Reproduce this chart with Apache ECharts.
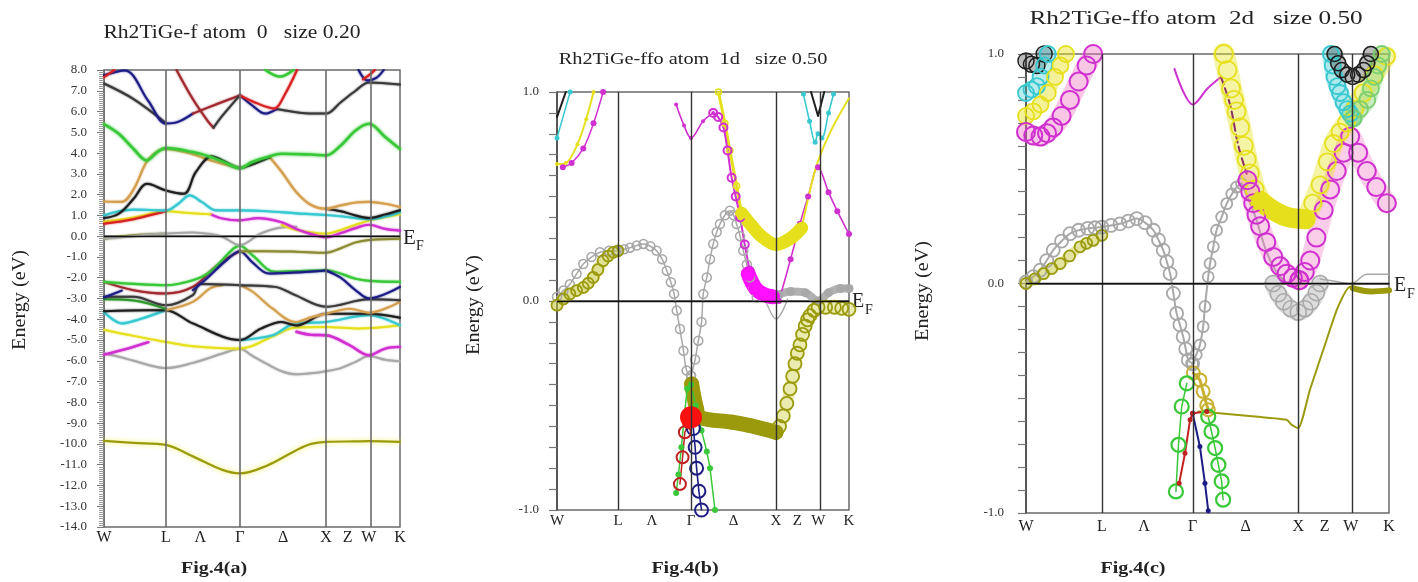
<!DOCTYPE html>
<html><head><meta charset="utf-8">
<script src="https://cdn.jsdelivr.net/npm/echarts@6.0.0/dist/echarts.min.js"></script>
<style>html,body{margin:0;padding:0;background:#fff;}#c{width:1418px;height:582px;}</style>
</head><body><div id="c"></div>
<script>
// ---------- k-path ----------
const kLabelPos = [0, 0.209, 0.325, 0.459, 0.605, 0.75, 0.823, 0.895, 1.0];
const kLabels = ['W', 'L', 'Λ', 'Γ', 'Δ', 'X', 'Z', 'W', 'K'];
const kLinePos = [0.209, 0.459, 0.75, 0.895];
const panelTitles = ['Rh2TiGe-f atom  0   size 0.20', 'Rh2TiGe-ffo atom  1d   size 0.50', 'Rh2TiGe-ffo atom  2d   size 0.50'];
const figLabels = ['Fig.4(a)', 'Fig.4(b)', 'Fig.4(c)'];
const yRangeA = [-14, 8];
const yRangeBC = [-1, 1];

// ---------- panel (a): [k, E(eV)] ----------
const a_navyTop = [[0,7.75],[0.07,7.98],[0.15,6.5],[0.209,5.42],[0.25,5.5],[0.3,5.9]];
const a_maroonA = [[0.3,5.9],[0.38,6.35],[0.459,6.78]];
const a_blackTop = [[0,7.35],[0.1,6.6],[0.209,5.45]];
const a_redW = [[0,7.65],[0.035,8.0]];
const a_redLG = [[0.245,8.0],[0.3,6.6],[0.35,5.55],[0.37,5.22]];
const a_blackV = [[0.37,5.22],[0.4,5.8],[0.459,6.78]];
const a_navyG = [[0.459,6.78],[0.5,6.3],[0.544,5.9],[0.583,6.12]];
const a_maroonB = [[0.459,6.78],[0.52,6.38],[0.575,6.15],[0.61,6.8],[0.652,8.0]];
const a_blackX = [[0.583,6.12],[0.68,5.92],[0.75,5.9],[0.8,6.45],[0.85,7.0],[0.895,7.4],[1,7.3]];
const a_greenTop = [[0.545,8.0],[0.595,7.68],[0.64,8.0]];
const a_navyW = [[0.86,8.0],[0.89,7.5],[0.92,7.62],[0.945,8.0]];
const a_redWW = [[0.875,7.55],[0.9,7.8],[0.915,8.0]];
const a_green1 = [[0,5.4],[0.05,4.93],[0.1,4.2],[0.144,3.65],[0.18,4.05],[0.209,4.24],[0.3,4.05],[0.35,3.86],[0.4,3.6],[0.459,3.28],[0.5,3.57],[0.55,3.8],[0.6,3.97],[0.7,3.93],[0.75,3.89],[0.8,4.37],[0.85,5.09],[0.895,5.41],[0.95,4.77],[1,4.2]];
const a_orange1 = [[0,1.67],[0.06,1.65],[0.1,2.25],[0.145,3.6],[0.185,4.12],[0.209,4.2],[0.3,3.95],[0.36,3.65],[0.459,3.28]];
const a_black4 = [[0,0.87],[0.05,1.08],[0.1,1.8],[0.145,2.52],[0.209,2.2],[0.27,2.04],[0.31,3.08],[0.364,3.85],[0.4,3.65],[0.459,3.28],[0.5,3.45],[0.56,3.8]];
const a_orange2 = [[0.56,3.8],[0.6,3.1],[0.65,2.12],[0.7,1.5],[0.75,1.32],[0.8,1.48],[0.85,1.62],[0.895,1.65],[0.95,1.56],[1,1.4]];
const a_black6 = [[0.75,1.32],[0.8,1.2],[0.85,1.0],[0.895,0.88],[0.95,1.05],[1,1.25]];
const a_cyan1 = [[0,1.0],[0.05,1.2],[0.1,1.28],[0.209,1.24],[0.25,1.55],[0.29,1.96],[0.33,1.65],[0.38,1.24],[0.459,1.24],[0.55,1.2],[0.65,1.1],[0.75,1.02],[0.8,0.96],[0.895,0.82],[0.95,0.95],[1,1.16]];
const a_red5 = [[0,0.6],[0.1,0.82],[0.209,1.2]];
const a_yellow2 = [[0,0.7],[0.1,0.9],[0.209,1.2],[0.3,1.1],[0.36,1.06]];
const a_magenta1 = [[0.36,1.06],[0.4,0.85],[0.459,0.76],[0.52,0.87],[0.6,0.67],[0.65,0.35],[0.7,0.1],[0.75,-0.05],[0.8,0.15],[0.85,0.39],[0.895,0.55],[0.95,0.35],[1,0.27]];
const a_yellow3 = [[0.6,0.55],[0.65,0.3],[0.7,0.18],[0.75,0.12],[0.8,0.3],[0.85,0.55],[0.895,0.75],[1,1.05]];
const a_gray0 = [[0,-0.11],[0.1,0.0],[0.15,0.08],[0.3,0.18],[0.36,0.1],[0.4,-0.03],[0.459,-0.43],[0.53,0.13],[0.6,0.42],[0.65,0.45]];
const a_olive0 = [[0,-0.12],[0.1,0.05],[0.209,0.12]];
const a_olive1 = [[0.459,-0.72],[0.55,-0.72],[0.65,-0.75],[0.75,-0.8],[0.8,-0.58],[0.85,-0.3],[0.895,-0.18],[1,-0.12]];
const a_red2 = [[0,-2.2],[0.1,-2.6],[0.209,-2.76],[0.3,-2.44],[0.37,-1.56],[0.414,-1.08],[0.459,-0.72]];
const a_navy2L = [[0,-2.95],[0.06,-2.62]];
const a_navy2 = [[0.3,-2.6],[0.35,-2.0],[0.41,-1.2],[0.459,-0.72],[0.5,-1.24],[0.557,-1.8],[0.65,-1.75],[0.75,-1.65]];
const a_navy3 = [[0.75,-1.65],[0.8,-2.0],[0.85,-2.6],[0.895,-3.0],[1,-2.44]];
const a_green2 = [[0,-2.2],[0.1,-2.3],[0.209,-2.36],[0.3,-2.12],[0.358,-1.72],[0.437,-0.6],[0.459,-0.45],[0.5,-0.9],[0.578,-1.72],[0.65,-1.68],[0.75,-1.64],[0.85,-2.05],[0.895,-2.15],[1,-2.2]];
const a_green3 = [[0,-3.04],[0.1,-3.1],[0.209,-3.5]];
const a_black2 = [[0,-2.92],[0.1,-2.92],[0.209,-3.33],[0.3,-2.84],[0.324,-2.3],[0.459,-2.36],[0.578,-2.44],[0.646,-2.84],[0.75,-3.4],[0.895,-3.04],[1,-3.08]];
const a_tan1 = [[0.209,-3.56],[0.3,-3.16],[0.36,-2.5],[0.4,-2.36]];
const a_tan2 = [[0.459,-2.36],[0.5,-2.65],[0.57,-3.49],[0.646,-4.13],[0.7,-3.9],[0.75,-3.73],[0.83,-3.49],[0.895,-3.68],[1,-3.16]];
const a_black3 = [[0,-3.61],[0.15,-3.56],[0.209,-3.56],[0.3,-4.2],[0.459,-5.0],[0.53,-4.45],[0.6,-4.13],[0.65,-4.3],[0.75,-3.73],[0.895,-3.73],[1,-3.93]];
const a_cyan2 = [[0,-3.65],[0.06,-4.2],[0.12,-4.0],[0.209,-3.56]];
const a_cyan3 = [[0.459,-5.0],[0.57,-4.77],[0.646,-4.2],[0.75,-4.13],[0.895,-3.8],[1,-4.29]];
const a_yellow4 = [[0,-4.5],[0.1,-4.8],[0.209,-5.09],[0.3,-5.3],[0.459,-5.41],[0.578,-4.77],[0.646,-4.4],[0.75,-4.37],[0.86,-4.45],[1,-4.29]];
const a_magenta2 = [[0,-5.7],[0.07,-5.45],[0.15,-5.1]];
const a_magenta3 = [[0.65,-4.6],[0.7,-4.75],[0.75,-4.77],[0.83,-5.25],[0.895,-5.73],[0.95,-5.41],[1,-5.33]];
const a_gray2 = [[0,-5.65],[0.05,-5.8],[0.1,-6.0],[0.15,-6.2],[0.209,-6.35],[0.3,-6.1],[0.4,-5.65],[0.459,-5.42],[0.5,-5.75],[0.55,-6.15],[0.6,-6.5],[0.65,-6.65],[0.7,-6.6],[0.75,-6.5],[0.8,-6.35],[0.85,-6.05],[0.895,-5.77],[0.95,-5.95],[1,-6.02]];
const a_olive2 = [[0,-9.85],[0.1,-9.95],[0.209,-10.05],[0.3,-10.6],[0.4,-11.25],[0.459,-11.42],[0.55,-11.05],[0.65,-10.3],[0.7,-10.0],[0.75,-9.9],[0.85,-9.88],[0.895,-9.87],[1,-9.9]];

// ---------- panel (b): [k, E(eV)] ----------
const b_black = [[0,0.88],[0.03,1.0]];
const b_cyan1 = [[0,0.78],[0.045,1.0]];
const b_yellow1 = [[0,0.655],[0.03,0.66],[0.07,0.75],[0.1,0.87],[0.125,1.0]];
const b_magenta1 = [[0.02,0.64],[0.05,0.66],[0.09,0.73],[0.125,0.85],[0.158,1.0]];
const b_gray1 = [[0,0.02],[0.022,0.05],[0.044,0.08],[0.067,0.13],[0.09,0.177],[0.118,0.21],[0.147,0.233],[0.178,0.24],[0.209,0.24],[0.23,0.248],[0.25,0.255],[0.273,0.265],[0.296,0.273],[0.32,0.262],[0.341,0.241],[0.36,0.2],[0.376,0.145],[0.39,0.09],[0.401,0.034],[0.41,-0.046],[0.421,-0.134],[0.433,-0.238],[0.444,-0.333],[0.459,-0.357]];
const b_gray2 = [[0.459,-0.357],[0.473,-0.28],[0.484,-0.19],[0.495,-0.1],[0.501,0.033],[0.513,0.113],[0.524,0.2],[0.535,0.273],[0.547,0.33],[0.558,0.368],[0.575,0.41],[0.592,0.432],[0.605,0.41],[0.615,0.368],[0.627,0.31],[0.638,0.241],[0.65,0.175],[0.661,0.113],[0.673,0.06],[0.684,0.018]];
const b_grayV = [[0.684,0.018],[0.707,0.01],[0.75,-0.086],[0.79,0.01]];
const b_gray3 = [[0.76,0.03],[0.8,0.045],[0.85,0.04],[0.894,0.0],[0.93,0.04],[0.97,0.06],[1,0.06]];
const b_magentaG = [[0.408,0.94],[0.435,0.84],[0.459,0.78],[0.5,0.86],[0.535,0.9]];
const b_magentaDown = [[0.535,0.9],[0.552,0.88],[0.57,0.83],[0.584,0.72],[0.598,0.59],[0.612,0.5],[0.627,0.4],[0.643,0.27],[0.66,0.145]];
const b_magentaBlob = [[0.655,0.13],[0.68,0.06],[0.71,0.03],[0.74,0.02]];
const b_magentaUp = [[0.76,0.0],[0.8,0.2],[0.832,0.37],[0.86,0.5],[0.894,0.64],[0.93,0.52],[0.96,0.43],[1,0.32]];
const b_yellowG = [[0.553,1.0],[0.575,0.85],[0.592,0.72],[0.615,0.55],[0.632,0.42]];
const b_yellowThick = [[0.632,0.42],[0.661,0.37],[0.7,0.31],[0.75,0.27],[0.8,0.3],[0.838,0.35]];
const b_yellowUp = [[0.838,0.35],[0.87,0.55],[0.894,0.67],[0.94,0.82],[1,0.97]];
const b_cyanW = [[0.844,0.99],[0.865,0.86],[0.884,0.76],[0.894,0.8],[0.907,0.78],[0.93,0.9],[0.947,0.99]];
const b_blackW = [[0.87,1.0],[0.894,0.885],[0.915,1.0]];
const b_olive1 = [[0,-0.02],[0.022,0.01],[0.044,0.034],[0.067,0.05],[0.09,0.065],[0.107,0.085],[0.124,0.113],[0.14,0.15],[0.158,0.193],[0.175,0.215],[0.193,0.233],[0.209,0.24]];
const b_oliveG = [[0.461,-0.397],[0.478,-0.517],[0.49,-0.557],[0.6,-0.58],[0.66,-0.596],[0.75,-0.628]];
const b_oliveXW = [[0.75,-0.628],[0.762,-0.6],[0.775,-0.55],[0.787,-0.49],[0.798,-0.42],[0.807,-0.36],[0.815,-0.3],[0.823,-0.25],[0.832,-0.21],[0.841,-0.16],[0.85,-0.12],[0.858,-0.09],[0.866,-0.07],[0.88,-0.045],[0.894,-0.03],[0.92,-0.03],[0.95,-0.03],[0.975,-0.035],[1,-0.04]];
const b_redBlob = [[0.459,-0.556]];
const b_redOpen = [[0.452,-0.58],[0.438,-0.628],[0.43,-0.748],[0.421,-0.876]];
const b_navy = [[0.459,-0.56],[0.467,-0.61],[0.473,-0.7],[0.478,-0.8],[0.486,-0.91],[0.495,-1.0]];
const b_greenL = [[0.446,-0.42],[0.436,-0.55],[0.426,-0.7],[0.416,-0.83],[0.408,-0.919]];
const b_greenR = [[0.459,-0.4],[0.475,-0.5],[0.495,-0.62],[0.513,-0.72],[0.524,-0.8],[0.541,-1.0]];

// ---------- panel (c): [k, E(eV)] ----------
const c_gray1 = [[0,0.007],[0.02,0.03],[0.039,0.058],[0.057,0.1],[0.075,0.145],[0.098,0.185],[0.121,0.217],[0.145,0.232],[0.17,0.24],[0.19,0.243],[0.209,0.246],[0.234,0.253],[0.259,0.26],[0.282,0.272],[0.305,0.283],[0.328,0.265],[0.351,0.232],[0.365,0.19],[0.378,0.145],[0.388,0.095],[0.397,0.043],[0.406,-0.043],[0.415,-0.13],[0.424,-0.18],[0.433,-0.232],[0.44,-0.285],[0.447,-0.333],[0.459,-0.35]];
const c_gray2 = [[0.459,-0.35],[0.469,-0.31],[0.479,-0.268],[0.488,-0.188],[0.493,-0.1],[0.502,0.029],[0.507,0.087],[0.516,0.16],[0.525,0.232],[0.539,0.29],[0.553,0.348],[0.567,0.39],[0.58,0.42],[0.594,0.435]];
const c_gray2b = [[0.594,0.435],[0.63,0.3],[0.66,0.15],[0.69,0.05],[0.72,0.0]];
const c_grayX = [[0.681,0.0],[0.695,-0.045],[0.71,-0.08],[0.73,-0.11],[0.75,-0.125],[0.768,-0.11],[0.785,-0.08],[0.8,-0.04],[0.81,0.0]];
const c_grayXK = [[0.81,0.02],[0.85,0.01],[0.895,0.0],[0.94,0.04],[1,0.04]];
const c_olive1 = [[0,0.0],[0.024,0.02],[0.048,0.043],[0.071,0.065],[0.094,0.087],[0.12,0.12],[0.149,0.16],[0.167,0.175],[0.185,0.188],[0.209,0.21]];
const c_oliveGX = [[0.475,-0.558],[0.6,-0.575],[0.718,-0.594],[0.732,-0.616],[0.75,-0.63],[0.782,-0.464],[0.828,-0.246],[0.86,-0.1],[0.893,-0.014],[0.95,-0.03],[1,-0.03]];
const c_oliveWK = [[0.9,-0.02],[0.95,-0.035],[1,-0.03]];
const c_oliveG = [[0.461,-0.39],[0.479,-0.42],[0.488,-0.47],[0.498,-0.53],[0.502,-0.55]];
const c_red = [[0.422,-0.87],[0.438,-0.74],[0.452,-0.594],[0.459,-0.565],[0.498,-0.558]];
const c_navy = [[0.459,-0.565],[0.479,-0.71],[0.493,-0.87],[0.502,-0.99]];
const c_greenL = [[0.443,-0.435],[0.429,-0.536],[0.42,-0.703],[0.413,-0.906]];
const c_greenR = [[0.502,-0.58],[0.511,-0.645],[0.521,-0.717],[0.53,-0.79],[0.539,-0.862],[0.543,-0.942]];
const c_magentaWL = [[0,0.66],[0.02,0.645],[0.04,0.64],[0.058,0.655],[0.075,0.68],[0.098,0.73],[0.121,0.8],[0.145,0.88],[0.167,0.95],[0.185,1.0]];
const c_yellowWL = [[0,0.73],[0.02,0.75],[0.04,0.78],[0.06,0.83],[0.08,0.9],[0.095,0.95],[0.11,1.0]];
const c_cyanWL = [[0,0.83],[0.015,0.845],[0.03,0.86],[0.04,0.9],[0.05,0.95],[0.06,1.0]];
const c_blackWL = [[0,0.97],[0.015,0.955],[0.03,0.95],[0.05,1.0]];
const c_magentaG = [[0.409,0.935],[0.435,0.83],[0.459,0.78],[0.5,0.85],[0.537,0.9]];
const c_magentaDash = [[0.537,0.9],[0.562,0.78],[0.585,0.6],[0.608,0.478]];
const c_yellowGX = [[0.545,1.0],[0.555,0.93],[0.565,0.85],[0.573,0.8],[0.58,0.75],[0.59,0.68],[0.6,0.6],[0.608,0.54],[0.617,0.48],[0.63,0.41],[0.645,0.36]];
const c_yellowThick = [[0.645,0.36],[0.68,0.32],[0.72,0.29],[0.77,0.28]];
const c_yellowXW = [[0.77,0.28],[0.79,0.35],[0.81,0.43],[0.83,0.53],[0.847,0.61],[0.865,0.66],[0.883,0.7],[0.905,0.76],[0.929,0.83],[0.96,0.91],[0.993,0.99]];
const c_magentaGX = [[0.61,0.45],[0.618,0.4],[0.626,0.35],[0.635,0.3],[0.645,0.25],[0.662,0.18],[0.681,0.116],[0.7,0.075],[0.718,0.043],[0.735,0.025],[0.753,0.014]];
const c_magentaXK = [[0.753,0.014],[0.768,0.05],[0.783,0.1],[0.8,0.2],[0.82,0.32],[0.838,0.41],[0.856,0.49],[0.875,0.57],[0.893,0.64],[0.915,0.57],[0.939,0.49],[0.965,0.42],[0.994,0.35]];
const c_cyanW = [[0.84,1.0],[0.845,0.95],[0.85,0.9],[0.858,0.86],[0.865,0.83],[0.875,0.79],[0.885,0.76],[0.893,0.74],[0.902,0.72]];
const c_cyanW2 = [[0.902,0.72],[0.92,0.76],[0.94,0.8],[0.95,0.85],[0.96,0.9],[0.97,0.95],[0.98,1.0]];
const c_blackW = [[0.85,1.0],[0.86,0.96],[0.87,0.93],[0.885,0.91],[0.9,0.9],[0.915,0.91],[0.93,0.93],[0.94,0.96],[0.95,1.0]];

// ---------- styles ----------
const COL = {
  black:'#1e1e1e', dk:'#3a3a3a', red:'#d82020', maroon:'#a02830', green:'#38c838', navy:'#1c1c84',
  cyan:'#38c8d0', magenta:'#d030d0', pink:'#ff10ff', yellow:'#e6e01c', orange:'#d4a050', gray:'#a8a8a8', olive:'#9a9a0c'
};
const serif = '"Liberation Serif","DejaVu Serif",serif';

function band(g, data, color, o) {
  o = o || {};
  const ring = o.ring;
  return {
    type: 'line', xAxisIndex: g, yAxisIndex: g, data: data,
    smooth: o.smooth === undefined ? 0.35 : o.smooth,
    symbol: o.sym ? 'circle' : 'none', showSymbol: !!o.sym, symbolSize: o.ss || 4,
    lineStyle: { color: o.lineColor || color, width: o.w || 2, opacity: o.op === undefined ? 1 : o.op,
      type: o.dash ? 'dashed' : 'solid', cap: 'round', join: 'round',
      shadowBlur: o.glow || 0, shadowColor: o.glowColor || color },
    itemStyle: { color: ring ? 'rgba(255,255,255,0)' : (o.fill || color), borderColor: color,
      borderWidth: ring ? (o.bw || 1.6) : 0, opacity: 1 },
    emphasis: { disabled: true }, silent: true, animation: false, clip: true, z: o.z || 3
  };
}
function frameSeries(g, lineCol, lw) {
  return {
    type: 'line', xAxisIndex: g, yAxisIndex: g, data: [], silent: true, animation: false, z: 1,
    markLine: {
      silent: true, symbol: ['none', 'none'], label: { show: false }, animation: false,
      lineStyle: { type: 'solid', color: lineCol, width: lw },
      data: kLinePos.map(k => ({ xAxis: k })).concat([{ yAxis: 0, lineStyle: { color: '#111', width: 1.3, type: 'solid' } }])
    }
  };
}

const G = 2;
const seriesA = [
  frameSeries(0, '#6a6a6a', 1.6),
  band(0, a_olive2, COL.olive, {w:2.2, glow:5, glowColor:'#f0f060'}),
  band(0, a_gray2, COL.gray, {glow:G}),
  band(0, a_magenta2, COL.magenta, {w:2.4, glow:G}),
  band(0, a_magenta3, COL.magenta, {w:2.4, glow:G}),
  band(0, a_yellow4, COL.yellow, {glow:G}),
  band(0, a_cyan2, COL.cyan, {w:2.2, glow:G}),
  band(0, a_cyan3, COL.cyan, {w:2.2, glow:G}),
  band(0, a_black3, COL.black, {glow:G}),
  band(0, a_tan1, COL.orange, {glow:G}),
  band(0, a_tan2, COL.orange, {glow:G}),
  band(0, a_green3, '#2c9a2c', {glow:G}),
  band(0, a_black2, COL.dk, {glow:G}),
  band(0, a_red2, COL.maroon, {glow:G}),
  band(0, a_green2, COL.green, {w:2.2, glow:G}),
  band(0, a_navy2L, COL.navy, {glow:G}),
  band(0, a_navy2, COL.navy, {glow:G}),
  band(0, a_navy3, COL.navy, {glow:G}),
  band(0, a_olive1, '#8a8a30', {glow:G}),
  band(0, a_olive0, '#8a8a30', {glow:G}),
  band(0, a_gray0, COL.gray, {glow:G}),
  band(0, a_yellow3, COL.yellow, {glow:G}),
  band(0, a_magenta1, COL.magenta, {w:2.2, glow:G}),
  band(0, a_yellow2, COL.yellow, {glow:G}),
  band(0, a_red5, COL.red, {glow:G}),
  band(0, a_cyan1, COL.cyan, {w:2.2, glow:G}),
  band(0, a_black6, COL.black, {glow:G}),
  band(0, a_orange2, COL.orange, {w:2.2, glow:G}),
  band(0, a_orange1, COL.orange, {w:2.2, glow:G}),
  band(0, a_black4, COL.black, {glow:G}),
  band(0, a_green1, COL.green, {w:2.6, glow:3}),
  band(0, a_blackTop, COL.dk, {glow:G}),
  band(0, a_navyTop, COL.navy, {glow:G}),
  band(0, a_maroonA, COL.maroon, {glow:G}),
  band(0, a_redW, COL.red, {glow:G}),
  band(0, a_redLG, COL.maroon, {glow:G}),
  band(0, a_blackV, COL.dk, {glow:G}),
  band(0, a_blackX, COL.dk, {glow:G}),
  band(0, a_navyG, COL.navy, {glow:G}),
  band(0, a_maroonB, COL.red, {glow:G}),
  band(0, a_greenTop, COL.green, {w:2.4, glow:G}),
  band(0, a_navyW, COL.navy, {glow:G}),
  band(0, a_redWW, COL.red, {glow:G})
];

const seriesB = [
  frameSeries(1, '#333', 1.4),
  band(1, b_gray1, COL.gray, {w:1.5, sym:true, ring:true, ss:9, bw:1.5}),
  band(1, b_gray2, COL.gray, {w:1.5, sym:true, ring:true, ss:9, bw:1.5}),
  band(1, b_grayV, COL.gray, {w:1.3}),
  band(1, b_gray3, COL.gray, {w:8, sym:true, ss:9, op:0.9}),
  band(1, b_olive1, COL.olive, {w:11, op:0.55, lineColor:'#c8c840', sym:true, ring:true, ss:11, bw:1.8}),
  band(1, b_oliveG, COL.olive, {w:15, sym:true, ss:15}),
  band(1, b_oliveXW, COL.olive, {w:12, op:0.5, lineColor:'#d8d860', sym:true, ring:true, ss:13, bw:1.8}),
  band(1, b_black, COL.black, {w:2}),
  band(1, b_cyan1, COL.cyan, {w:1.5, sym:true, ss:5}),
  band(1, b_yellow1, COL.yellow, {w:2, sym:true, ss:4}),
  band(1, b_magenta1, COL.magenta, {w:1.5, sym:true, ss:6}),
  band(1, b_magentaG, COL.magenta, {w:1.6, sym:true, ss:4}),
  band(1, b_yellowG, COL.yellow, {w:3, sym:true, ring:true, ss:6}),
  band(1, b_magentaDown, COL.magenta, {w:2, sym:true, ring:true, ss:8, bw:2}),
  band(1, b_magentaBlob, COL.pink, {w:15, sym:true, ss:14}),
  band(1, b_magentaUp, COL.magenta, {w:1.6, sym:true, ss:6}),
  band(1, b_yellowThick, COL.yellow, {w:13, sym:true, ss:12}),
  band(1, b_yellowUp, COL.yellow, {w:2}),
  band(1, b_cyanW, COL.cyan, {w:1.6, sym:true, ss:5}),
  band(1, b_blackW, COL.black, {w:2, smooth:0}),
  band(1, b_greenL, COL.green, {w:1.5, sym:true, ss:6, smooth:0}),
  band(1, b_greenR, COL.green, {w:1.5, sym:true, ss:6, smooth:0}),
  band(1, b_navy, COL.navy, {w:1.6, sym:true, ring:true, ss:13, bw:2, smooth:0}),
  band(1, b_redOpen, '#c02020', {w:1.5, sym:true, ring:true, ss:12, bw:2, smooth:0}),
  band(1, b_redBlob, '#ff1010', {sym:true, ss:22})
];

const seriesC = [
  frameSeries(2, '#333', 1.4),
  band(2, c_gray1, COL.gray, {w:2, sym:true, ring:true, ss:13, bw:1.8}),
  band(2, c_gray2, COL.gray, {w:2, sym:true, ring:true, ss:11, bw:1.8}),
  band(2, c_gray2b, COL.gray, {w:2}),
  band(2, c_grayX, COL.gray, {w:18, op:0.4, sym:true, ring:true, ss:16, bw:1.5}),
  band(2, c_grayXK, COL.gray, {w:1.5}),
  band(2, c_olive1, COL.olive, {w:10, op:0.5, lineColor:'#c8c840', sym:true, ring:true, ss:11, bw:1.8}),
  band(2, c_oliveGX, COL.olive, {w:2, smooth:0.2}),
  band(2, c_oliveWK, COL.olive, {w:6}),
  band(2, c_blackWL, COL.black, {w:14, op:0.3, sym:true, ring:true, ss:16, bw:1.5}),
  band(2, c_cyanWL, COL.cyan, {w:16, op:0.35, sym:true, ring:true, ss:16, bw:1.8}),
  band(2, c_yellowWL, COL.yellow, {w:14, op:0.45, sym:true, ring:true, ss:16, bw:1.8}),
  band(2, c_magentaWL, COL.magenta, {w:20, op:0.4, lineColor:'#f070c0', sym:true, ring:true, ss:18, bw:2}),
  band(2, c_magentaG, COL.magenta, {w:2}),
  band(2, c_yellowGX, COL.yellow, {w:22, op:0.4, sym:true, ring:true, ss:18, bw:1.8}),
  band(2, c_magentaDash, '#8a3060', {w:2, dash:true}),
  band(2, c_magentaGX, COL.magenta, {w:20, op:0.35, lineColor:'#f070c0', sym:true, ring:true, ss:18, bw:2}),
  band(2, c_magentaXK, COL.magenta, {w:20, op:0.35, lineColor:'#f070c0', sym:true, ring:true, ss:18, bw:2}),
  band(2, c_yellowThick, COL.yellow, {w:20, sym:true, ss:18}),
  band(2, c_yellowXW, COL.yellow, {w:20, op:0.4, sym:true, ring:true, ss:17, bw:1.8}),
  band(2, c_cyanW, COL.cyan, {w:18, op:0.4, sym:true, ring:true, ss:16, bw:1.8}),
  band(2, c_cyanW2, '#7cd070', {w:18, op:0.4, sym:true, ring:true, ss:16, bw:1.8}),
  band(2, c_blackW, COL.black, {w:16, op:0.3, sym:true, ring:true, ss:15, bw:1.6}),
  band(2, c_oliveG, '#c8b030', {w:3, sym:true, ring:true, ss:13, bw:2, smooth:0}),
  band(2, c_greenL, COL.green, {w:1.5, sym:true, ring:true, ss:14, bw:2.2, smooth:0}),
  band(2, c_greenR, COL.green, {w:1.5, sym:true, ring:true, ss:14, bw:2.2, smooth:0}),
  band(2, c_navy, COL.navy, {w:2, sym:true, ss:5, smooth:0}),
  band(2, c_red, '#c02020', {w:2, sym:true, ss:5, smooth:0})
];

// ---------- layout ----------
const grids = [
  { left: 104, top: 70, width: 296, height: 457 },
  { left: 557, top: 92, width: 292, height: 418 },
  { left: 1026, top: 54, width: 363, height: 459 }
];
function xAx(g, fs, margin) {
  return {
    type: 'value', gridIndex: g, min: 0, max: 1,
    axisLine: { show: true, lineStyle: { color: g === 0 ? '#6a6a6a' : '#444', width: 1.5 } },
    axisTick: { show: false }, splitLine: { show: false },
    axisLabel: { customValues: kLabelPos, margin: margin, color: '#222', fontFamily: serif, fontSize: fs,
      formatter: v => { const i = kLabelPos.findIndex(p => Math.abs(p - v) < 1e-6); return i >= 0 ? kLabels[i] : ''; } }
  };
}
function yAxBC(g, margin) {
  return {
    type: 'value', gridIndex: g, min: yRangeBC[0], max: yRangeBC[1], interval: 0.1,
    axisLine: { show: true, lineStyle: { color: '#444', width: 1.5 } },
    axisTick: { show: true, length: 8, lineStyle: { color: '#777', width: 1.2 } },
    splitLine: { show: false },
    axisLabel: { margin: margin, color: '#333', fontFamily: serif, fontSize: 13,
      formatter: v => (Math.abs(Math.round(v * 10)) % 10 === 0 ? v.toFixed(1) : '') }
  };
}
function txt(x, y, text, font, extra) {
  return Object.assign({ type: 'text', x: x, y: y, style: { text: text, font: font, fill: '#222', align: 'center', verticalAlign: 'middle', textAlign: 'center', textVerticalAlign: 'middle' } }, extra || {});
}
function txtL(x, y, text, font) {
  return { type: 'text', x: x, y: y, style: { text: text, font: font, fill: '#222', align: 'left', verticalAlign: 'middle', textAlign: 'left', textVerticalAlign: 'middle' } };
}
const option = {
  backgroundColor: '#ffffff', animation: false,
  grid: grids.map(g => Object.assign({ show: true, borderColor: '#6a6a6a', borderWidth: 1.5, backgroundColor: 'transparent' }, g)),
  xAxis: [xAx(0, 16, 3), xAx(1, 15, 4), xAx(2, 16, 6)],
  yAxis: [
    { type: 'value', gridIndex: 0, min: yRangeA[0], max: yRangeA[1], interval: 1,
      axisLine: { show: true, lineStyle: { color: '#6a6a6a', width: 1.5 } },
      axisTick: { show: true, length: 7, lineStyle: { color: '#777' } },
      minorTick: { show: true, splitNumber: 10, length: 5, lineStyle: { color: '#999' } },
      splitLine: { show: false },
      axisLabel: { margin: 17, color: '#333', fontFamily: serif, fontSize: 13, formatter: v => v.toFixed(1) } },
    yAxBC(1, 18), yAxBC(2, 22)
  ],
  series: seriesA.concat(seriesB, seriesC),
  graphic: [
    txt(232, 33, panelTitles[0], '18px ' + serif, { scaleX: 1.2 }),
    txt(693, 60, panelTitles[1], '16px ' + serif, { scaleX: 1.27 }),
    txt(1196, 19, panelTitles[2], '18px ' + serif, { scaleX: 1.4 }),
    txt(20, 300, 'Energy (eV)', '18px ' + serif, { rotation: Math.PI / 2, scaleX: 1.12 }),
    txt(474, 305, 'Energy (eV)', '18px ' + serif, { rotation: Math.PI / 2, scaleX: 1.12 }),
    txt(923, 291, 'Energy (eV)', '18px ' + serif, { rotation: Math.PI / 2, scaleX: 1.12 }),
    txtL(403, 238, 'E', '21px ' + serif), txtL(416, 246, 'F', '14px ' + serif),
    txtL(852, 302, 'E', '20px ' + serif), txtL(865, 310, 'F', '14px ' + serif),
    txtL(1394, 286, 'E', '20px ' + serif), txtL(1407, 294, 'F', '14px ' + serif),
    txt(214, 569, figLabels[0], 'bold 16px ' + serif, { scaleX: 1.25 }),
    txt(685, 569, figLabels[1], 'bold 16px ' + serif, { scaleX: 1.25 }),
    txt(1133, 569, figLabels[2], 'bold 16px ' + serif, { scaleX: 1.25 })
  ]
};
const chart = echarts.init(document.getElementById('c'), null, { renderer: 'canvas', width: 1418, height: 582 });
chart.setOption(option);
</script></body></html>
